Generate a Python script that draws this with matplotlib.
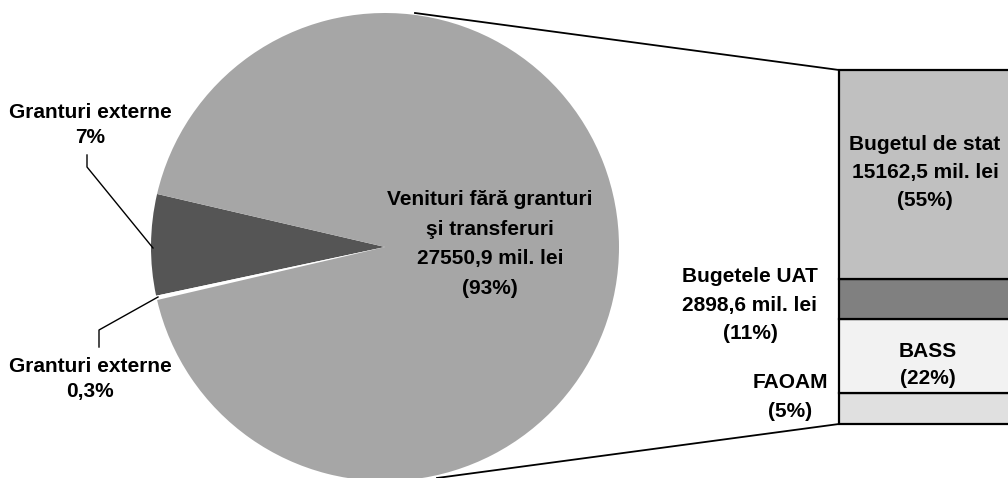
import matplotlib.pyplot as plt

plt.rcParams['font.family'] = ['Liberation Sans', 'DejaVu Sans']

# pie: share of total revenues (%)
pie_labels = ["Granturi externe", "Granturi externe", "Venituri fără granturi şi transferuri"]
pie_values = [7, 0.3, 93]
pie_colors = ["#555555", "#ffffff", "#a6a6a6"]

# bar: breakdown of revenues without grants (mil. lei, estimated for BASS / FAOAM)
bar_labels = ["FAOAM", "BASS", "Bugetele UAT", "Bugetul de stat"]
bar_values = [2250, 5370, 2898.6, 15162.5]
bar_colors = ["#e0e0e0", "#f2f2f2", "#808080", "#c0c0c0"]

W, H = 1008, 478
fig = plt.figure(figsize=(W / 100, H / 100), dpi=100)
ax = fig.add_axes([0, 0, 1, 1])

# pie drawn in pixel-like coords (y up)
cx, cy, r = 385, H - 247, 234
ax.pie(pie_values, colors=pie_colors, startangle=166.9, counterclock=True,
       center=(cx, cy), radius=r, wedgeprops=dict(linewidth=0))

# stacked bar, partly cut by the right edge
bx, btop, bbot = 839, H - 70, H - 424
scale = (btop - bbot) / sum(bar_values)
bottom = bbot
for v, c in zip(bar_values, bar_colors):
    h = v * scale
    ax.bar(bx, h, width=220, bottom=bottom, align='edge', color=c,
           edgecolor='black', linewidth=1.6, zorder=3)
    bottom += h

# connector lines pie -> bar
ax.plot([415, bx], [H - 13, btop], color='black', lw=1.3, zorder=4)
ax.plot([437, bx], [H - 478, bbot], color='black', lw=1.3, zorder=4)

# leader lines for the small slices
ax.plot([87, 87, 153], [H - 155, H - 167, H - 248], color='black', lw=1)
ax.plot([158, 99, 99], [H - 297, H - 330, H - 347], color='black', lw=1)

tk = dict(fontsize=15, fontweight='bold', ha='center', va='center', zorder=5)

ax.text(90, H - 125, "Granturi externe\n7%", linespacing=1.45, **tk)
ax.text(90, H - 379, "Granturi externe\n0,3%", linespacing=1.45, **tk)
ax.text(490, H - 244, "Venituri fără granturi\nşi transferuri\n27550,9 mil. lei\n(93%)",
        linespacing=1.72, **tk)
ax.text(925, H - 172, "Bugetul de stat\n15162,5 mil. lei\n(55%)", linespacing=1.6, **tk)
ax.text(750, H - 305, "Bugetele UAT\n2898,6 mil. lei\n(11%)", linespacing=1.63, **tk)
ax.text(928, H - 365, "BASS\n(22%)", linespacing=1.57, **tk)
ax.text(790, H - 397, "FAOAM\n(5%)", linespacing=1.72, **tk)

ax.set_xlim(0, W)
ax.set_ylim(0, H)
ax.set_aspect('auto')
ax.axis('off')

fig.savefig("out.png", dpi=100)
